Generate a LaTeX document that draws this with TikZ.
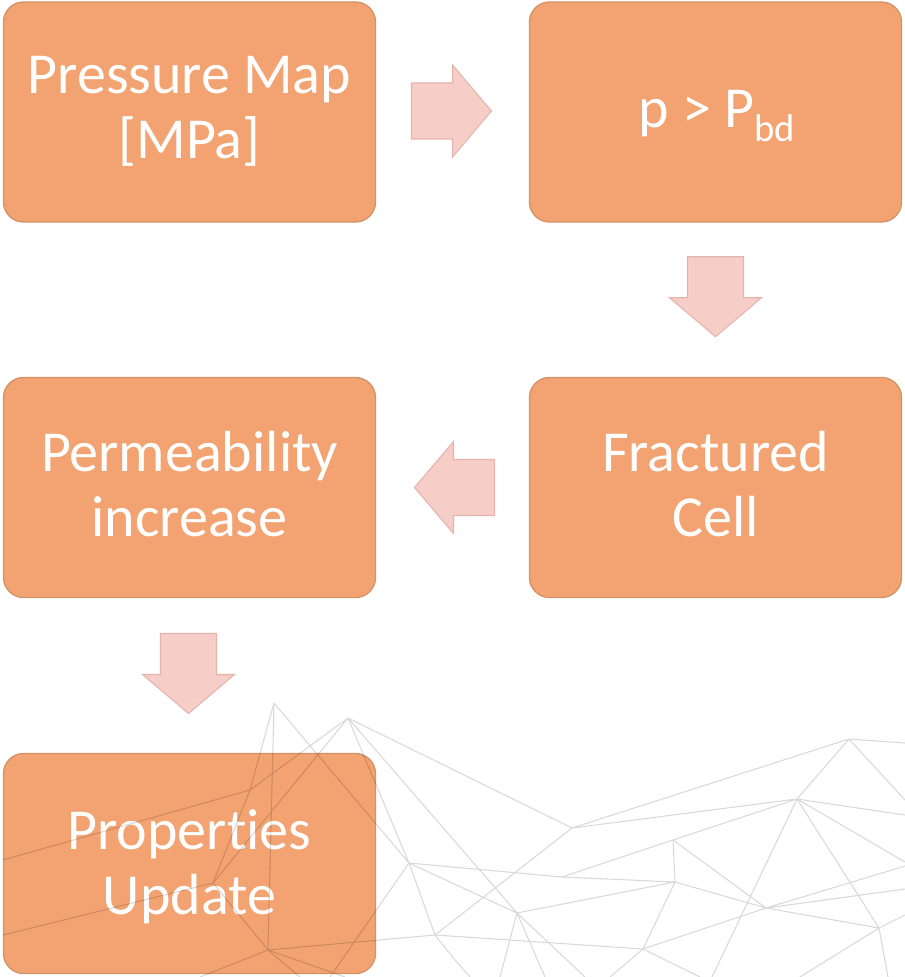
\documentclass[tikz,border=0pt]{standalone}
\usepackage{fontspec}
\setmainfont{Carlito}[Ligatures=CommonOff]
\usetikzlibrary{calc}
\definecolor{boxfill}{RGB}{242,163,113}
\definecolor{boxedge}{RGB}{212,146,104}
\definecolor{arrfill}{RGB}{247,205,200}
\definecolor{arredge}{RGB}{230,180,174}
\begin{document}
\begin{tikzpicture}[x=0.75pt,y=-0.75pt,
  boxnode/.style={draw=boxedge, line width=1pt, fill=boxfill, rounded corners=15pt,
    minimum width=279pt, minimum height=165pt, inner sep=0pt},
  boxtext/.style={inner sep=0pt, text=white, align=center,
    font=\fontsize{43.5}{48.5}\selectfont},
  arrowbody/.style={draw=arredge, line width=0.8pt, fill=arrfill, line join=miter},
  meshline/.style={draw=black, draw opacity=0.15, line width=0.8pt},
  blockarrow/.pic={\path[arrowbody] (-40,-28) -- (1,-28) -- (1,-46) -- (40,0) -- (1,46) -- (1,28) -- (-40,28) -- cycle;}
]
\useasboundingbox (0,0) rectangle (905,977);
\fill[white] (0,0) rectangle (905,977);

% boxes
\node[boxnode] (b1) at (189.5,112) {};
\node[boxnode] (b2) at (715.5,112) {};
\node[boxnode] (b3) at (715.5,487.5) {};
\node[boxnode] (b4) at (189.5,487.5) {};
\node[boxnode] (b5) at (189.5,863.5) {};

% texts (last baseline placed explicitly)
\node[boxtext, anchor=base] (t1) at (189.5,158) {Pressure Map\\{[MPa]}};
\node[boxtext, anchor=base] (t2) at (717,128) {p > P\raisebox{-10pt}{\fontsize{29}{29}\selectfont bd}};
\node[boxtext, anchor=base] (t3) at (715.5,536) {Fractured\\Cell};
\node[boxtext, anchor=base] (t4) at (189.5,536) {Permeability\\increase};
\node[boxtext, anchor=base] (t5) at (189.5,914) {Properties\\Update};

% block arrows between boxes
\coordinate (a1) at ($(b1.east)!0.5!(b2.west)+(-1,-1)$);
\coordinate (a2) at ($(b2.south)!0.5!(b3.north)+(0,-3)$);
\coordinate (a3) at ($(b3.west)!0.5!(b4.east)+(2,0)$);
\coordinate (a4) at ($(b4.south)!0.5!(b5.north)+(-1,-2)$);
\pic at (a1) {blockarrow};
\pic[rotate=-90] at (a2) {blockarrow};
\pic[rotate=180] at (a3) {blockarrow};
\pic[rotate=-90] at (a4) {blockarrow};

% background mesh
\coordinate (mA) at (274,703); \coordinate (mB) at (348,718);
\coordinate (mC) at (572,828); \coordinate (mD) at (849,739);
\coordinate (mF) at (797,799); \coordinate (mG) at (673,840);
\coordinate (mH) at (675,882); \coordinate (mI) at (409,863);
\coordinate (mJ) at (562,877); \coordinate (mK) at (517,913);
\coordinate (mL) at (766,908); \coordinate (mM) at (643,949);
\coordinate (mN) at (879,928); \coordinate (mO) at (455,960);
\coordinate (mP) at (435,935); \coordinate (mQ) at (268,950);
\coordinate (mV) at (250,790); \coordinate (mX) at (213,883);
\path[meshline]
  (mA) -- (mQ)  (mA) -- (mI)  (mA) -- (mV)
  (mB) -- (mC)  (mB) -- (mI)  (mB) -- (mK)  (mB) -- (mV)  (mB) -- (mX)
  (mC) -- (mD)  (mC) -- (mF)  (mC) -- (mP)
  (mD) -- (905,743)  (mD) -- (mF)  (mD) -- (905,800)
  (mF) -- (mG)  (mG) -- (mJ)  (mF) -- (905,815)  (mF) -- (905,862)  (mF) -- (mN)  (mF) -- (712,977)
  (mG) -- (mH)  (mG) -- (mL)  (mH) -- (mL)  (mH) -- (mJ)  (mH) -- (mK)  (mH) -- (mM)
  (mL) -- (mM)  (mL) -- (mN)  (mL) -- (905,866)  (mL) -- (905,889)
  (mN) -- (905,915)  (mN) -- (888,977)  (mN) -- (800,977)
  (mM) -- (610,977)  (mM) -- (700,977)
  (mK) -- (500,977)  (mK) -- (545,977)  (mK) -- (585,977)  (mK) -- (mI)  (mI) -- (mJ)
  (mI) -- (mP)  (mP) -- (mO)  (mO) -- (470,977)  (mP) -- (mQ)  (mP) -- (mM)
  (mQ) -- (300,977)  (mQ) -- (345,977)  (mX) -- (mQ)  (mV) -- (3,860)  (mX) -- (3,935)
  (mI) -- (330,977)  (mV) -- (mX)  (mQ) -- (200,977);
\end{tikzpicture}
\end{document}
